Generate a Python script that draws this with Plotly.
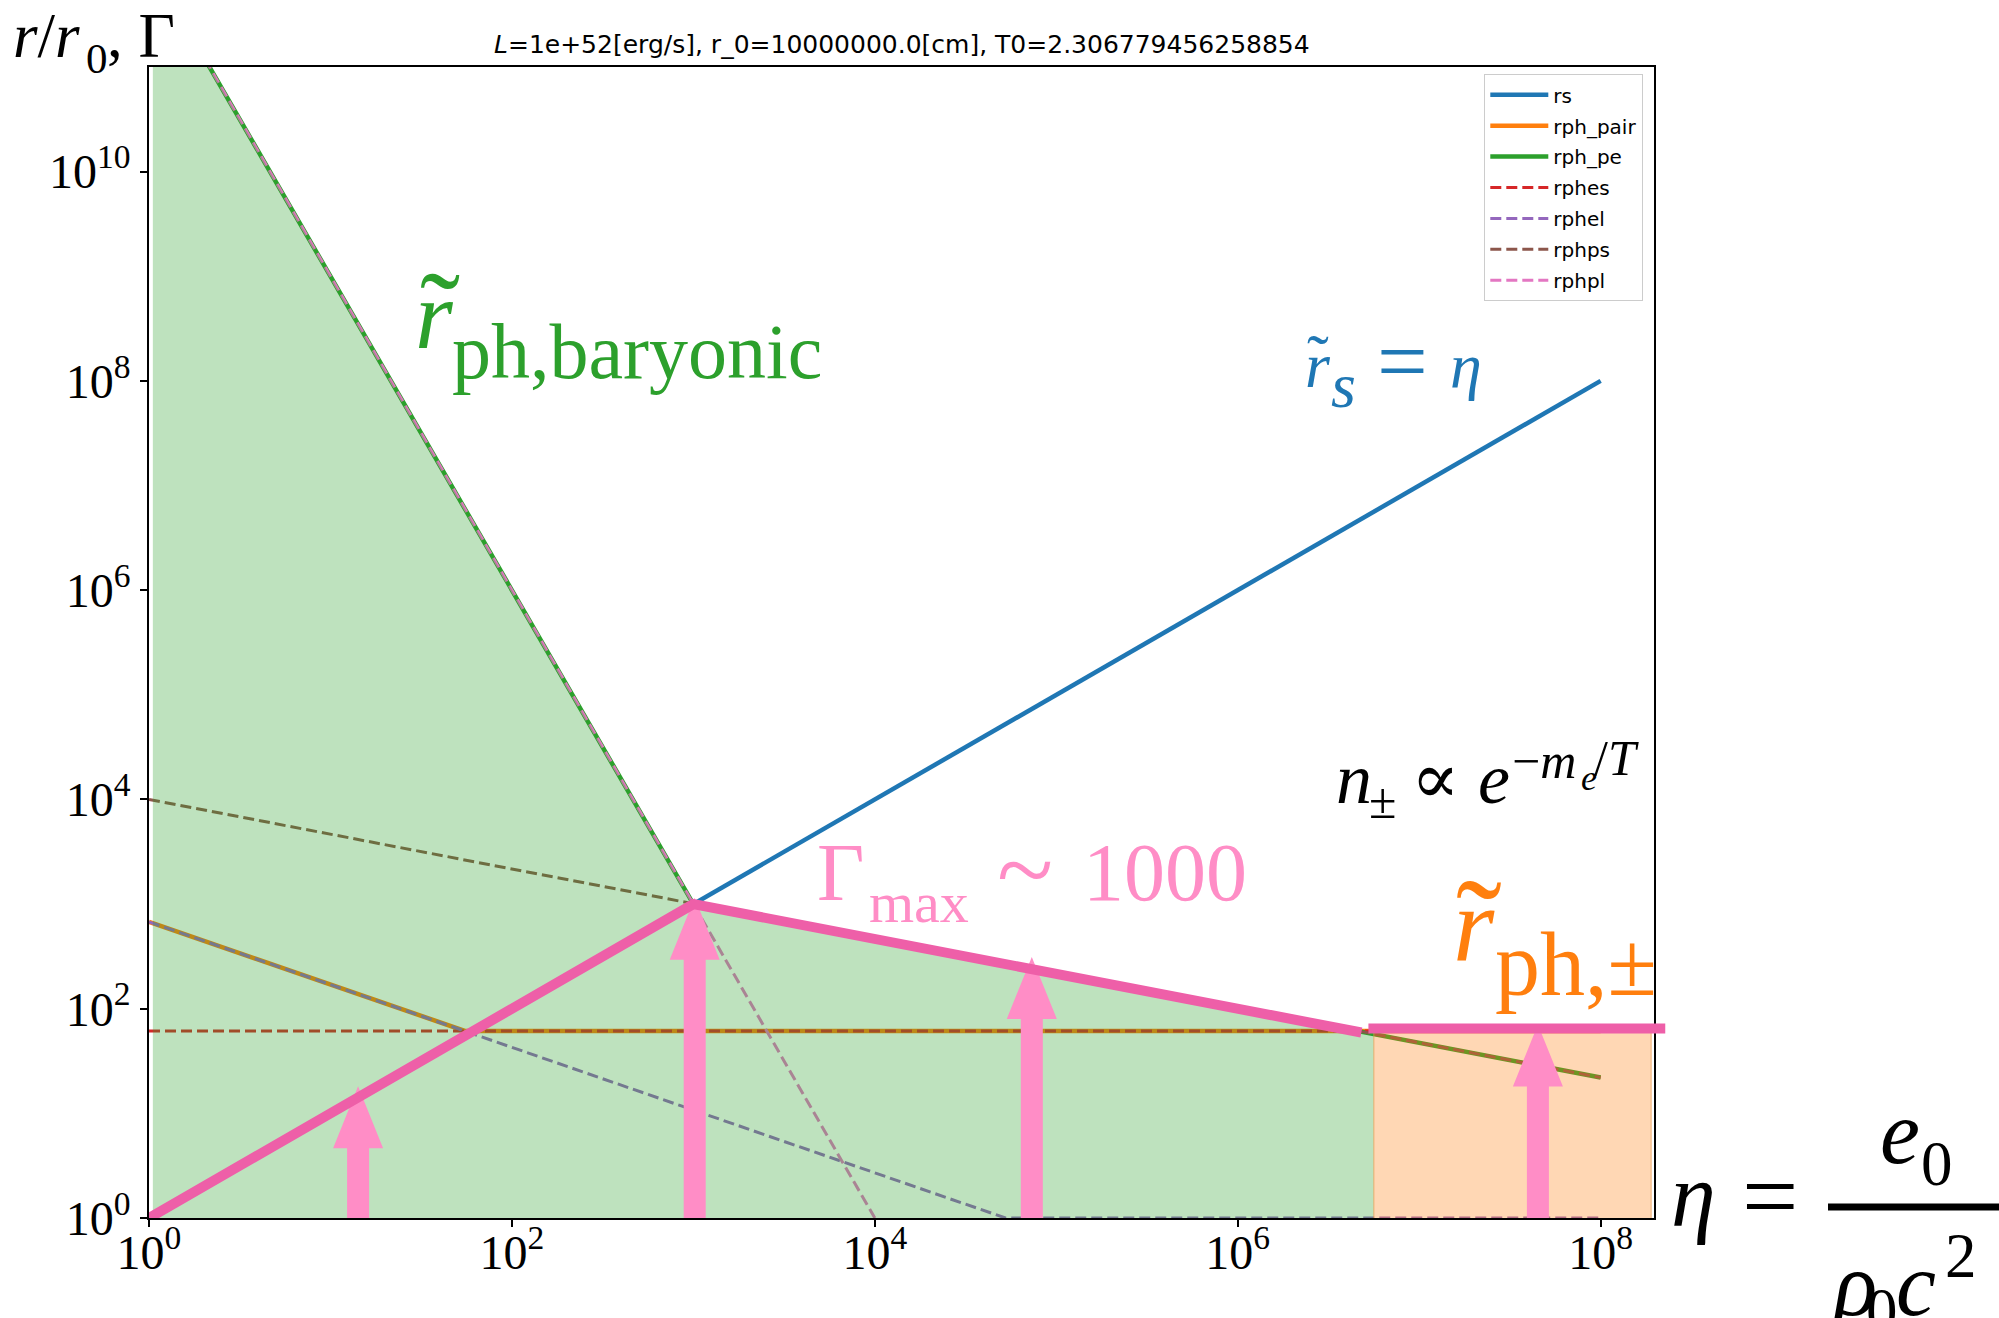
import numpy as np
import plotly.graph_objects as go

# ---------------------------------------------------------------
# Photospheric radii of a fireball versus dimensionless entropy
# eta = e0 / (rho0 c^2); radii in units of r0.
# ---------------------------------------------------------------
eta_rs = [1.0, 1.0e8]
r_rs = [1.0, 1.0e8]

eta_pair = [1.0, 55.0, 1.0e8]
r_pair = [676.0, 61.4, 61.4]

eta_pe = [1.0, 1.0e3, 1.0e8]
r_pe = [1.0e12, 1.0e3, 22.0]

eta_es = [1.0, 1.0e8]
r_es = [61.4, 61.4]

eta_el = [1.0, 5.25e4, 1.0e8]
r_el = [676.0, 1.0, 1.0]

eta_ps = [1.0, 1.0e8]
r_ps = [1.0e4, 22.0]

eta_pl = [1.0, 1.0e4]
r_pl = [1.0e12, 1.0]

# shaded regimes: baryonic photosphere / pair photosphere
baryonic_eta = [1.05, 1.05, 1.47, 1.0e3, 5.62e6, 5.62e6]
baryonic_r = [0.8, 3.16e11, 3.16e11, 1.0e3, 56.2, 0.8]
pair_eta = [5.62e6, 1.9e8]
pair_r = [0.9, 61.4]

# maximum Lorentz factor track
gamma_eta = [1.0, 1.0e3, 4.8e6]
gamma_val = [1.0, 1.0e3, 59.3]
gamma_pair_eta = [5.25e6, 2.27e8]
gamma_pair_val = [64.6, 64.6]

# arrows marking Gamma for a few values of eta
arrow_eta = [14.2, 1017.0, 7.33e4, 4.51e7]
arrow_tip = [18.2, 1150.0, 313.0, 70.8]

x_tickvals = [1e0, 1e2, 1e4, 1e6, 1e8]
x_ticktext = ["10<sup>0</sup>", "10<sup>2</sup>", "10<sup>4</sup>", "10<sup>6</sup>", "10<sup>8</sup>"]
y_tickvals = [1e0, 1e2, 1e4, 1e6, 1e8, 1e10]
y_ticktext = ["10<sup>0</sup>", "10<sup>2</sup>", "10<sup>4</sup>", "10<sup>6</sup>",
              "10<sup>8</sup>", "10<sup>10</sup>"]

TITLE = "<i>L</i>=1e+52[erg/s], r_0=10000000.0[cm], T0=2.306779456258854"

# ---------------- layout geometry ----------------
W, H = 1999, 1318
ML, MR, MT, MB = 149, 345, 67, 100
PW, PH = W - ML - MR, H - MT - MB
XR = [0.0, 8.294]
YR = [0.0, 11.0]
DEC_X = PW / (XR[1] - XR[0])
DEC_Y = PH / (YR[1] - YR[0])


def px_x(px):
    return (px - ML) / PW


def px_y(py):
    return (H - MB - py) / PH


def eta_to_paper(eta):
    return (np.log10(eta) - XR[0]) / (XR[1] - XR[0])


BLUE, ORANGE, GREEN = "#1f77b4", "#ff7f0e", "#2ca02c"
RED, PURPLE, BROWN, PINK = "#d62728", "#9467bd", "#8c564b", "#e377c2"
ARROW_PINK = "#ff8dc6"
GAMMA_PINK = "#ee5fa8"
SERIF = "Liberation Serif, Times New Roman, serif"
SANS = "DejaVu Sans, sans-serif"
DESC_SERIF = 0.216
DESC_SANS = 0.236

fig = go.Figure()

SOLID_W = 4.5
DASH_W = 3.0
DASH = "11px,5px"


def add_line(name, x, y, color, dashed):
    fig.add_trace(go.Scatter(
        x=x, y=y, mode="lines", name=name, legendgroup=name,
        line=dict(color=color, width=DASH_W if dashed else SOLID_W,
                  dash=DASH if dashed else "solid"),
        hoverinfo="skip"))


add_line("rs", eta_rs, r_rs, BLUE, False)
add_line("rph_pair", eta_pair, r_pair, ORANGE, False)
add_line("rph_pe", eta_pe, r_pe, GREEN, False)
add_line("rphes", eta_es, r_es, RED, True)
add_line("rphel", eta_el, r_el, PURPLE, True)
add_line("rphps", eta_ps, r_ps, BROWN, True)
add_line("rphpl", eta_pl, r_pl, PINK, True)

# translucent regime shading over the curves
fig.add_trace(go.Scatter(
    x=baryonic_eta, y=baryonic_r, mode="lines", fill="toself",
    fillcolor="rgba(44,160,44,0.31)", line=dict(width=0, color="rgba(44,160,44,0)"),
    showlegend=False, hoverinfo="skip"))
fig.add_trace(go.Scatter(
    x=[pair_eta[0], pair_eta[0], pair_eta[1], pair_eta[1], pair_eta[0]],
    y=[pair_r[0], pair_r[1], pair_r[1], pair_r[0], pair_r[0]],
    mode="lines", fill="toself", fillcolor="rgba(255,127,14,0.31)",
    line=dict(width=1.5, color="rgba(230,150,70,0.45)"),
    showlegend=False, hoverinfo="skip"))

# arrows (shaft + head polygons, sized in pixels)
SHAFT_HALF, HEAD_HALF, HEAD_LEN = 11.0, 25.0, 62.0
for xc, tip in zip(arrow_eta, arrow_tip):
    lx, ty = np.log10(xc), np.log10(tip)
    ds, dh, hl = SHAFT_HALF / DEC_X, HEAD_HALF / DEC_X, HEAD_LEN / DEC_Y
    yb = YR[0] - 0.1
    px = [lx - ds, lx - ds, lx - dh, lx, lx + dh, lx + ds, lx + ds, lx - ds]
    py = [yb, ty - hl, ty - hl, ty, ty - hl, ty - hl, yb, yb]
    fig.add_trace(go.Scatter(
        x=10 ** np.array(px), y=10 ** np.array(py), mode="lines", fill="toself",
        fillcolor=ARROW_PINK, line=dict(width=0, color=ARROW_PINK),
        showlegend=False, hoverinfo="skip"))

fig.add_trace(go.Scatter(
    x=gamma_eta, y=gamma_val, mode="lines",
    line=dict(color=GAMMA_PINK, width=10), showlegend=False, hoverinfo="skip"))

# pair-photosphere plateau of Gamma, running slightly past the frame
fig.add_shape(type="line", xref="paper", yref="y",
              x0=eta_to_paper(gamma_pair_eta[0]), x1=eta_to_paper(gamma_pair_eta[1]),
              y0=gamma_pair_val[0], y1=gamma_pair_val[1],
              line=dict(color=GAMMA_PINK, width=10), layer="above")


def text(s, left, baseline, size, color, family=SERIF, desc=DESC_SERIF):
    fig.add_annotation(text=s, xref="paper", yref="paper",
                       x=px_x(left), y=px_y(baseline + desc * size),
                       xanchor="left", yanchor="bottom", showarrow=False,
                       borderpad=0, borderwidth=0,
                       font=dict(family=family, size=size, color=color))


def tilde(cx, cy, width, color):
    size = width / 0.29
    baseline = cy + 0.616 * size
    fig.add_annotation(text="\u02dc", xref="paper", yref="paper",
                       x=px_x(cx), y=px_y(baseline + DESC_SERIF * size),
                       xanchor="center", yanchor="bottom", showarrow=False,
                       borderpad=0, borderwidth=0,
                       font=dict(family=SERIF, size=size, color=color))


# title
fig.add_annotation(text=TITLE, xref="paper", yref="paper", x=0.5,
                   y=px_y(53 + DESC_SANS * 25), xanchor="center", yanchor="bottom",
                   showarrow=False, borderpad=0, borderwidth=0,
                   font=dict(family=SANS, size=25, color="black"))

# vertical axis label  r/r0, Gamma
text("<i>r</i>/<i>r</i>", 13, 57, 63, "black")
text("0", 86, 73, 43, "black")
text(", \u0393", 107, 57, 63, "black")

# baryonic photosphere label
text("<i>r</i>", 415, 348, 97, GREEN)
tilde(440, 281, 35, GREEN)
text("ph,baryonic", 452, 378, 78, GREEN)

# saturation radius label
text("<i>r</i>", 1305, 387, 64, BLUE)
tilde(1318, 339, 19, BLUE)
text("<i>s</i>", 1331, 407, 64, BLUE)
text("=", 1377, 392, 90, BLUE)
text("<i>\u03b7</i>", 1450, 387, 64, BLUE)

# pair density
text("<i>n</i>", 1336, 803, 72, "black")
text("\u00b1", 1369, 818, 50, "black")
text("\u221d", 1411, 803, 72, "black", family="DejaVu Serif", desc=0.236)
text("<i>e</i>", 1478, 803, 72, "black")
text("\u2212<i>m</i>", 1512, 778, 50, "black")
text("<i>e</i>", 1581, 790, 36, "black")
text("/<i>T</i>", 1594, 775, 50, "black")

# Gamma_max
text("\u0393", 817, 900, 82, ARROW_PINK)
text("max", 869, 922, 58, ARROW_PINK)
text("~", 997, 905, 104, ARROW_PINK)
text("1000", 1083, 900, 82, ARROW_PINK)

# pair photosphere label
text("<i>r</i>", 1453, 960, 106, ORANGE)
tilde(1479, 889, 40, ORANGE)
text("ph,\u00b1", 1495, 995, 90, ORANGE)

# eta definition
text("<i>\u03b7</i>", 1671, 1226, 90, "black")
text("=", 1742, 1230, 100, "black")
fig.add_shape(type="line", xref="paper", yref="paper",
              x0=px_x(1828), x1=px_x(2010), y0=px_y(1207), y1=px_y(1207),
              line=dict(color="black", width=7))
text("<i>e</i>", 1880, 1163, 90, "black")
text("0", 1921, 1185, 63, "black")
text("<i>\u03c1</i>", 1831, 1315, 90, "black")
text("0", 1866, 1332, 63, "black")
text("<i>c</i>", 1896, 1315, 90, "black")
text("2", 1945, 1277, 63, "black")

axis_common = dict(
    type="log", showgrid=False, zeroline=False, showline=True, mirror=True,
    linecolor="black", linewidth=1.6, ticks="outside", ticklen=7, tickwidth=1.6,
    tickcolor="black", tickfont=dict(family=SERIF, size=48, color="black"))

fig.update_xaxes(range=XR, tickvals=x_tickvals, ticktext=x_ticktext,
                 ticklabelstandoff=-15, **axis_common)
fig.update_yaxes(range=YR, tickvals=y_tickvals, ticktext=y_ticktext, **axis_common)

fig.update_layout(
    width=W, height=H,
    margin=dict(l=ML, r=MR, t=MT, b=MB, pad=0),
    paper_bgcolor="white", plot_bgcolor="white",
    showlegend=True,
    legend=dict(x=px_x(1643), y=px_y(74), xanchor="right", yanchor="top",
                bgcolor="rgba(255,255,255,0.8)", bordercolor="#cccccc", borderwidth=1.3,
                font=dict(family=SANS, size=20, color="black"),
                itemwidth=58, tracegroupgap=1.9),
)

fig.write_html("out.html")
